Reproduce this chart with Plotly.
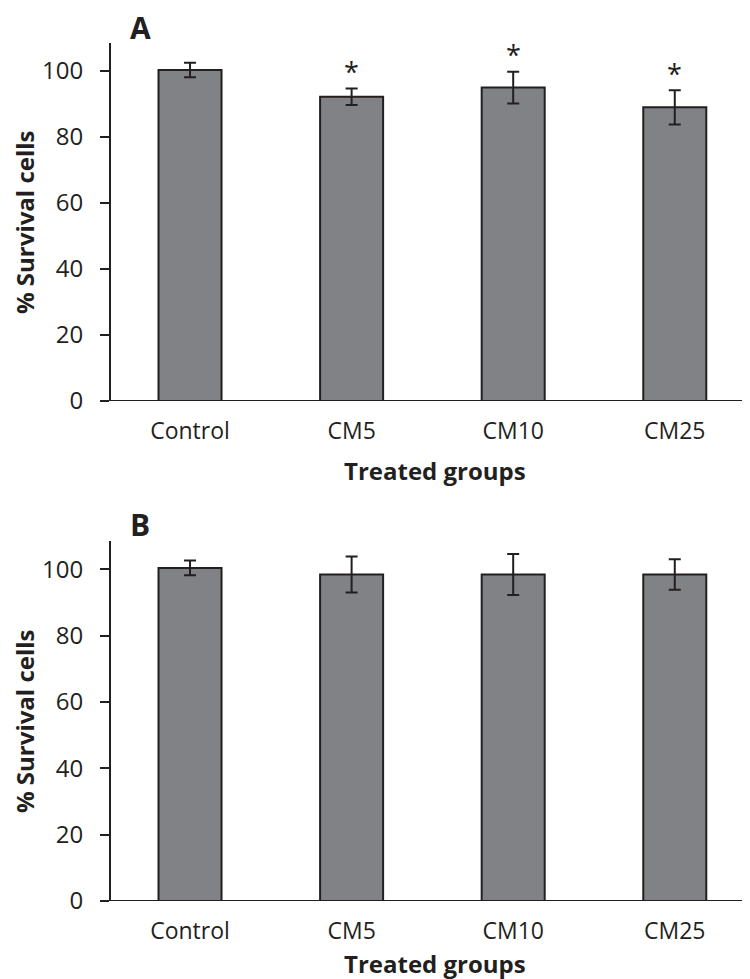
import plotly.graph_objects as go

groups = ["Control", "CM5", "CM10", "CM25"]
a_mean = [100.3, 92.2, 95.0, 89.0]
a_err = [2.2, 2.5, 4.8, 5.2]
a_sig = [False, True, True, True]
b_mean = [100.4, 98.4, 98.4, 98.4]
b_err = [2.2, 5.4, 6.2, 4.6]
y_ticks = [0, 20, 40, 60, 80, 100]
x_title = "Treated groups"
y_title = "% Survival cells"
panel_labels = ["A", "B"]

INK = "#231f20"
BAR = "#818285"
FONT = "Open Sans"

W, H = 750, 979
ML, MR, MT, MB = 103, 0, 35, 86
PW, PH = W - ML - MR, H - MT - MB


def px_x(px):
    return (px - ML) / PW


def px_y(py):
    return 1 - (py - MT) / PH


fig = go.Figure()
for mean, err, xa, ya in [(a_mean, a_err, "x", "y"), (b_mean, b_err, "x2", "y2")]:
    fig.add_trace(go.Bar(
        x=groups, y=mean, width=0.39,
        marker=dict(color=BAR, line=dict(color=INK, width=2)),
        error_y=dict(type="data", array=err, color=INK, thickness=2, width=6),
        xaxis=xa, yaxis=ya, showlegend=False, hoverinfo="skip",
    ))

# significance stars
for g, m, e, s in zip(groups, a_mean, a_err, a_sig):
    if s:
        fig.add_annotation(x=g, y=m + e, xref="x", yref="y", text="*",
                           showarrow=False, yanchor="middle", yshift=17,
                           font=dict(family=FONT, size=27, color=INK))

xr = [-0.489, 3.515]
yr = [0, 108.5]
ax_common = dict(showgrid=False, zeroline=False, automargin=False)
xaxis_def = dict(range=xr, type="category", showline=False, ticks="",
                 tickfont=dict(family=FONT, size=23, color=INK),
                 ticklabelstandoff=14, **ax_common)
yaxis_def = dict(range=yr, tickvals=y_ticks, showline=True, linecolor=INK, linewidth=2,
                 ticks="outside", ticklen=9, tickwidth=2, tickcolor=INK,
                 tickfont=dict(family=FONT, size=24, color=INK),
                 ticklabelstandoff=12, **ax_common)

dom_a = [px_y(393), 1]
dom_b = [0, px_y(533)]

fig.update_layout(
    width=W, height=H,
    margin=dict(l=ML, r=MR, t=MT, b=MB, autoexpand=False),
    paper_bgcolor="white", plot_bgcolor="white",
    xaxis=dict(domain=[0, 1], anchor="y", **xaxis_def),
    yaxis=dict(domain=dom_a, anchor="x", **yaxis_def),
    xaxis2=dict(domain=[0, 1], anchor="y2", **xaxis_def),
    yaxis2=dict(domain=dom_b, anchor="x2", **yaxis_def),
)

# x-axis baselines (extend slightly left of the y axis)
for xref, yref in [("x domain", "y"), ("x2 domain", "y2")]:
    fig.add_shape(type="line", xref=xref, yref=yref, x0=px_x(93), x1=1, y0=0, y1=0,
                  line=dict(color=INK, width=2), layer="above")

# axis titles and panel labels
title_font = dict(family=FONT, size=24, color=INK, weight="bold")
for dom, xt_y, lab, lab_y in [(dom_a, 462, panel_labels[0], 20), (dom_b, 955, panel_labels[1], 516)]:
    fig.add_annotation(x=0.5, y=px_y(xt_y), xref="paper", yref="paper", text=x_title,
                       showarrow=False, xanchor="center", yanchor="middle", font=title_font)
    fig.add_annotation(x=px_x(16), y=(dom[0] + dom[1]) / 2, xref="paper", yref="paper",
                       text=y_title, textangle=-90, showarrow=False,
                       xanchor="center", yanchor="middle", font=title_font)
    fig.add_annotation(x=px_x(132), y=px_y(lab_y), xref="paper", yref="paper", text=lab,
                       showarrow=False, xanchor="center", yanchor="middle",
                       font=dict(family=FONT, size=30, color=INK, weight="bold"))

fig.write_html("out.html")
